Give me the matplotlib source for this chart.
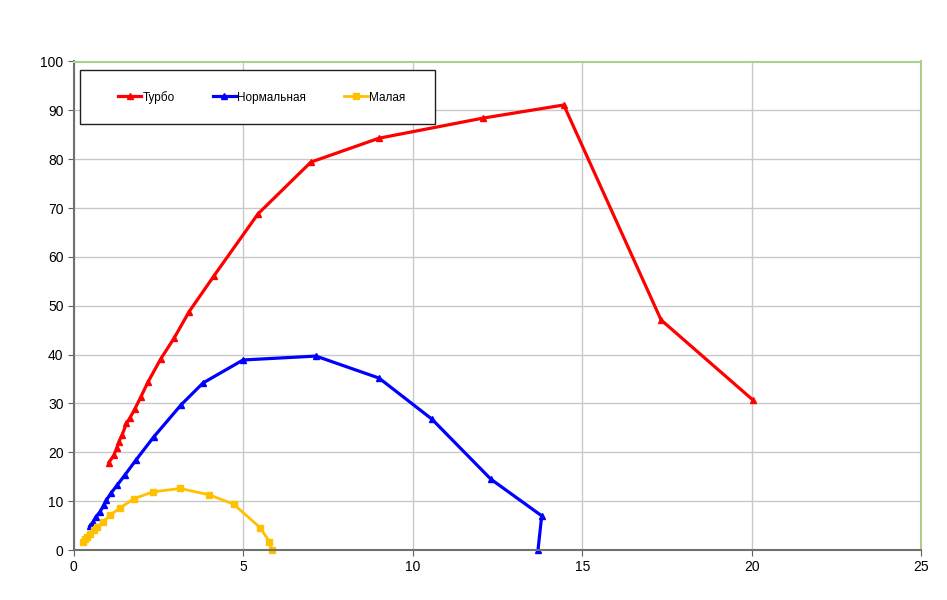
import matplotlib
matplotlib.use("Agg")
import matplotlib.pyplot as plt
from matplotlib.patches import Rectangle

plt.rcParams['font.family'] = ['Liberation Sans', 'DejaVu Sans']

# Турбо
turbo_x = [1.03, 1.18, 1.26, 1.33, 1.42, 1.55, 1.65, 1.80, 1.98, 2.18, 2.56, 2.95, 3.40,
           4.13, 5.43, 6.99, 9.0, 12.06, 14.45, 17.32, 20.03]
turbo_y = [17.9, 19.4, 20.8, 22.2, 23.5, 25.9, 27.0, 28.9, 31.4, 34.3, 39.1, 43.3, 48.8,
           56.1, 68.8, 79.4, 84.3, 88.4, 91.1, 47.1, 30.7]

# Нормальная
norm_x = [0.47, 0.57, 0.65, 0.77, 0.88, 0.96, 1.09, 1.28, 1.51, 1.84, 2.35, 3.16, 3.81,
          4.99, 7.14, 9.0, 10.56, 12.3, 13.8, 13.69]
norm_y = [4.9, 5.8, 6.8, 7.8, 9.2, 10.2, 11.6, 13.3, 15.4, 18.5, 23.1, 29.7, 34.2,
          38.9, 39.7, 35.2, 26.8, 14.5, 7.0, 0.0]

# Малая
small_x = [0.26, 0.32, 0.39, 0.49, 0.58, 0.69, 0.85, 1.08, 1.36, 1.77, 2.33, 3.14, 3.99,
           4.71, 5.49, 5.77, 5.84]
small_y = [1.7, 2.2, 2.7, 3.3, 4.0, 4.8, 5.7, 7.2, 8.6, 10.5, 11.9, 12.6, 11.3,
           9.4, 4.6, 1.7, 0.0]

x_ticks = [0, 5, 10, 15, 20, 25]
y_ticks = [0, 10, 20, 30, 40, 50, 60, 70, 80, 90, 100]

fig = plt.figure(figsize=(9.47, 6), dpi=100)
ax = fig.add_axes([0.078, 0.0833, 0.895, 0.8142])

ax.plot(turbo_x, turbo_y, color="#ff0000", lw=2.3, marker="^", ms=5, label="Турбо", clip_on=False)
ax.plot(norm_x, norm_y, color="#0000ff", lw=2.3, marker="^", ms=5, label="Нормальная", clip_on=False)
ax.plot(small_x, small_y, color="#ffc000", lw=2.0, marker="s", ms=4.5, label="Малая", clip_on=False)

ax.set_xlim(0, 25)
ax.set_ylim(0, 100)
ax.set_xticks(x_ticks)
ax.set_yticks(y_ticks)
ax.tick_params(labelsize=10, length=4, color="#606060", direction="out")
ax.grid(True, color="#c8c8c8", lw=1)
ax.set_axisbelow(True)

for s in ["left", "bottom"]:
    ax.spines[s].set_color("#707070")
    ax.spines[s].set_linewidth(1.5)
for s in ["top", "right"]:
    ax.spines[s].set_color("#a9d18e")
    ax.spines[s].set_linewidth(1.5)

# legend box
ax.add_patch(Rectangle((0.0071, 0.872), 0.419, 0.1106, transform=ax.transAxes,
                       facecolor="white", edgecolor="#202020", lw=1, zorder=5))
leg = ax.legend(ncol=3, loc="center left", bbox_to_anchor=(0.0519, 0.927),
                fontsize=8.5, frameon=False, borderpad=0, borderaxespad=0,
                handlelength=2.0, handletextpad=0.1, columnspacing=3.2)
leg.set_zorder(6)

fig.savefig("out.png", dpi=100)
